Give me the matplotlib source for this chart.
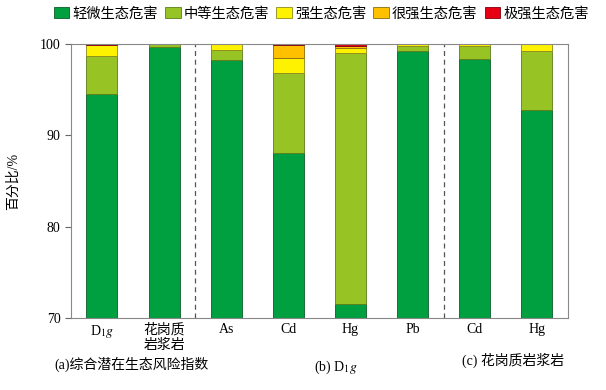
import numpy as np
import matplotlib
matplotlib.use("Agg")
import matplotlib.pyplot as plt

plt.rcParams['font.family'] = ['Liberation Serif', 'Noto Sans CJK SC']
plt.rcParams['mathtext.fontset'] = 'stix'

categories = [r'D$_1\mathit{g}$', '花岗质\n岩浆岩', 'As', 'Cd', 'Hg', 'Pb', 'Cd', 'Hg']
levels = ['轻微生态危害', '中等生态危害', '强生态危害', '很强生态危害', '极强生态危害']
slight = [94.5, 99.7, 98.2, 88.1, 71.5, 99.2, 98.4, 92.8]
medium = [4.2, 0.3, 1.1, 8.7, 27.5, 0.6, 1.4, 6.4]
strong = [1.2, 0.0, 0.7, 1.7, 0.6, 0.2, 0.2, 0.8]
vstrong = [0.05, 0.0, 0.0, 1.4, 0.2, 0.0, 0.0, 0.0]
extreme = [0.05, 0.0, 0.0, 0.1, 0.2, 0.0, 0.0, 0.0]
groups = ['(a)综合潜在生态风险指数', r'(b) D$_1\mathit{g}$', '(c) 花岗质岩浆岩']

colors = ['#00a040', '#97c424', '#fff200', '#ffc000', '#e60012']
edges = ['#0a5a2a', '#5e7d1a', '#8a8a20', '#8a6a10', '#800010']

fig = plt.figure(figsize=(6.06, 3.9), dpi=100)
ax = fig.add_axes([0.117, 0.185, 0.82, 0.702])

x = np.arange(len(categories))
bottom = np.zeros(len(categories))
for vals, c, ec, lab in zip([slight, medium, strong, vstrong, extreme], colors, edges, levels):
    ax.bar(x, vals, width=0.5, bottom=bottom, color=c, edgecolor=ec, linewidth=0.6, label=lab)
    bottom += np.array(vals)

for xv in [1.5, 5.5]:
    ax.axvline(xv, color='#555555', linestyle=(0, (4, 3)), linewidth=0.9)

ax.set_xlim(-0.5, 7.5)
ax.set_ylim(70, 100)
ax.set_yticks([70, 80, 90, 100])
ax.set_xticks(x)
ax.set_xticklabels(categories, fontsize=10)
ax.tick_params(axis='y', labelsize=10, length=4, color='#666666')
ax.tick_params(axis='x', length=0, pad=4)
for s in ax.spines.values():
    s.set_color('#888888')
ax.set_ylabel('百分比/%', fontsize=10, labelpad=14)

fig.text(0.09, 0.055, groups[0], fontsize=10, ha='left')
fig.text(0.555, 0.05, groups[1], fontsize=10, ha='center')
fig.text(0.763, 0.065, groups[2], fontsize=10, ha='left')

fig.legend(loc='upper center', bbox_to_anchor=(0.53, 1.015), ncol=5, frameon=False,
           fontsize=10.3, handlelength=1.1, handleheight=0.8, handletextpad=0.2,
           columnspacing=0.5)

fig.savefig('out.png', dpi=100)
